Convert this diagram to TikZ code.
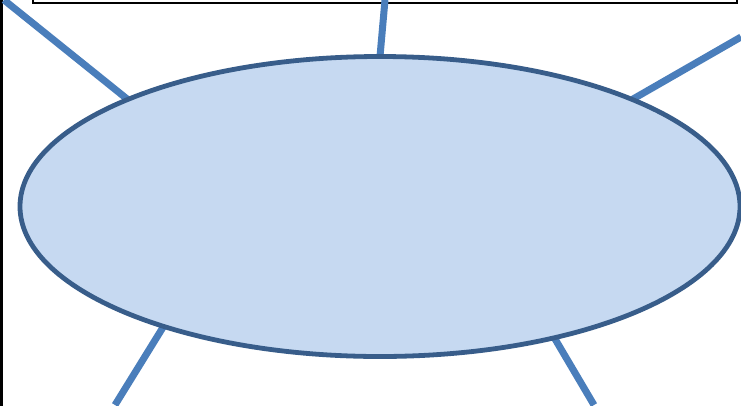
\documentclass[tikz,border=0pt]{standalone}
\usepackage{tikz}
\usetikzlibrary{shapes.geometric}
\definecolor{hubfill}{HTML}{C6D9F1}
\definecolor{hubline}{HTML}{385D8A}
\definecolor{spokeblue}{HTML}{4A7EBB}
\begin{document}
\begin{tikzpicture}[x=1pt,y=-1pt,spoke/.style={draw=spokeblue,line width=7pt}]
\useasboundingbox (0,0) rectangle (741,405);
% frames cut by the page edge
\draw[line width=2pt] (33,-20) rectangle (737,3);
\draw[line width=3pt] (1.3,-10) -- (1.3,415);
% free ends of the spokes
\coordinate (tl) at (4,0);
\coordinate (tc) at (385,0);
\coordinate (tr) at (741,37);
\coordinate (bl) at (115,405);
\coordinate (br) at (594,405);
\node[ellipse,minimum width=720pt,minimum height=300pt,inner sep=0pt] (hub) at (380,206.5) {};
\draw[spoke] (tl) -- (hub.157);
\draw[spoke] (tc) -- (hub.90);
\draw[spoke] (tr) -- (hub.23);
\draw[spoke] (bl) -- (hub.209);
\draw[spoke] (br) -- (hub.323);
\draw[fill=hubfill,draw=hubline,line width=4.8pt] (hub.center) ellipse[x radius=360pt,y radius=150pt];
\end{tikzpicture}
\end{document}
